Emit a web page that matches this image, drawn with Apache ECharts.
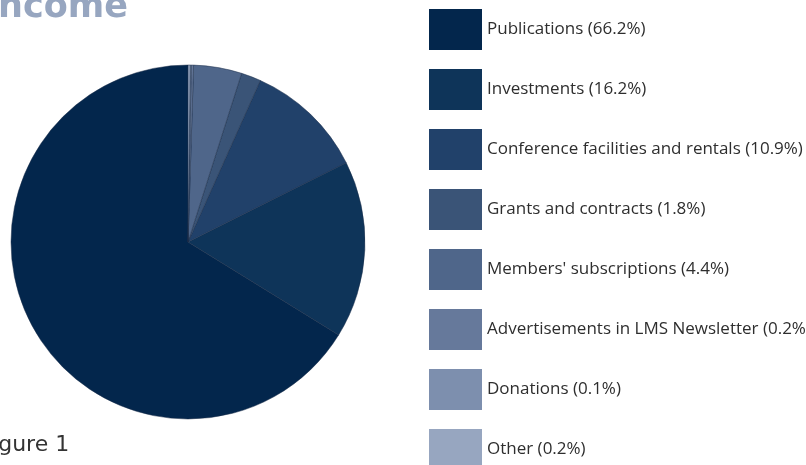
<!DOCTYPE html>
<html>
<head>
<meta charset="utf-8">
<script src="https://cdn.jsdelivr.net/npm/echarts@6/dist/echarts.min.js"></script>
<style>
  html, body { margin: 0; padding: 0; background: #fff; }
  #main { width: 806px; height: 465px; }
</style>
</head>
<body>
<div id="main"></div>
<script>
const names = [
  "Publications",
  "Investments",
  "Conference facilities and rentals",
  "Grants and contracts",
  "Members' subscriptions",
  "Advertisements in LMS Newsletter",
  "Donations",
  "Other"
];
const shares = [66.2, 16.2, 10.9, 1.8, 4.4, 0.2, 0.1, 0.2];
const colors = ["#03264c", "#0e3459", "#21416a", "#3a5477", "#4f668a", "#66799b", "#7d8fae", "#97a6c0"];

const chart = echarts.init(document.getElementById("main"));

const pieData = names.map((n, i) => ({
  name: n + " (" + shares[i].toFixed(1) + "%)",
  value: shares[i],
  itemStyle: { color: colors[i] }
}));

const option = {
  animation: false,
  legend: {
    orient: "vertical",
    left: 429,
    top: 9,
    height: 520,
    padding: 0,
    itemWidth: 53,
    itemHeight: 41,
    itemGap: 19,
    icon: "rect",
    itemStyle: { borderWidth: 0 },
    textStyle: {
      fontFamily: "Open Sans",
      fontSize: 17,
      color: "#2e2e2e",
      padding: [3, 0, 0, 0]
    },
    data: pieData.map(d => d.name)
  },
  graphic: [
    {
      type: "text",
      left: -15,
      top: -10,
      style: {
        text: "Income",
        font: "bold 35px 'DejaVu Sans'",
        fill: "#97a6c0"
      }
    },
    {
      type: "text",
      left: -19,
      top: 434,
      style: {
        text: "Figure 1",
        font: "22px 'DejaVu Sans'",
        fill: "#333"
      }
    }
  ],
  series: [
    {
      type: "pie",
      center: [188, 242],
      radius: 177,
      startAngle: 90,
      clockwise: false,
      label: { show: false },
      labelLine: { show: false },
      itemStyle: { borderColor: "#1b2d48", borderWidth: 0.5 },
      data: pieData
    }
  ]
};

chart.setOption(option);
</script>
</body>
</html>
